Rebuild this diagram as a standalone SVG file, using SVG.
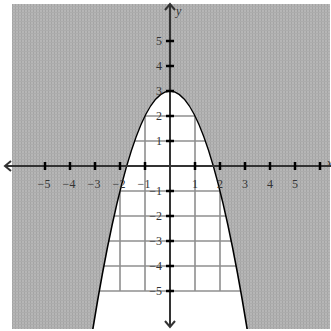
<svg xmlns="http://www.w3.org/2000/svg" width="331" height="331" viewBox="0 0 331 331">
<defs>
<pattern id="shade" width="3" height="3" patternUnits="userSpaceOnUse">
<rect width="3" height="3" fill="#b6b6b6"/>
<rect width="1" height="3" fill="#a4a4a4"/>
<rect width="3" height="1" fill="#acacac"/>
</pattern>
<clipPath id="plot"><rect x="12" y="4" width="318" height="325"/></clipPath>
<style>
.grid line{stroke:#8f8f8f;stroke-width:1.6}
.axis{stroke:#333;stroke-width:2;fill:none}
.tick{stroke:#000;stroke-width:2.5}
.lbl{font-family:"Liberation Serif","Times New Roman",serif;font-size:12px;fill:#333}
.xl{text-anchor:middle}
.yl{text-anchor:end}
</style>
</defs>
<rect width="331" height="331" fill="#fff"/>
<g class="grid">
<line x1="120" y1="291" x2="120" y2="16"/>
<line x1="145" y1="291" x2="145" y2="16"/>
<line x1="195" y1="291" x2="195" y2="16"/>
<line x1="220" y1="291" x2="220" y2="16"/>
<line x1="20" y1="291" x2="320" y2="291"/>
<line x1="20" y1="266" x2="320" y2="266"/>
<line x1="20" y1="241" x2="320" y2="241"/>
<line x1="20" y1="216" x2="320" y2="216"/>
<line x1="20" y1="191" x2="320" y2="191"/>
<line x1="20" y1="141" x2="320" y2="141"/>
<line x1="20" y1="116" x2="320" y2="116"/>
</g>
<g id="shading" clip-path="url(#plot)">
<path d="M12 4 H330 V340 H12 Z M92.5 331.25 Q170 -149.25 247.5 331.25 Z" fill="url(#shade)" fill-rule="evenodd"/>
</g>
<g id="parabola" clip-path="url(#plot)">
<path d="M92.5 331.25 Q170 -149.25 247.5 331.25" fill="none" stroke="#000" stroke-width="1.6"/>
</g>
<g id="axes">
<line class="axis" x1="5" y1="166" x2="331" y2="166"/>
<line class="axis" x1="170" y1="4" x2="170" y2="327"/>
<path class="axis" d="M11 161 L5 166 L11 171"/>
<path class="axis" d="M165 10 L170 4 L175 10"/>
<path class="axis" d="M165 321 L170 327 L175 321"/>
</g>
<g id="ticks">
<line class="tick" x1="45" y1="162" x2="45" y2="170"/>
<line class="tick" x1="70" y1="162" x2="70" y2="170"/>
<line class="tick" x1="95" y1="162" x2="95" y2="170"/>
<line class="tick" x1="120" y1="162" x2="120" y2="170"/>
<line class="tick" x1="145" y1="162" x2="145" y2="170"/>
<line class="tick" x1="195" y1="162" x2="195" y2="170"/>
<line class="tick" x1="220" y1="162" x2="220" y2="170"/>
<line class="tick" x1="245" y1="162" x2="245" y2="170"/>
<line class="tick" x1="270" y1="162" x2="270" y2="170"/>
<line class="tick" x1="295" y1="162" x2="295" y2="170"/>
<line class="tick" x1="320" y1="162" x2="320" y2="170"/>
<line class="tick" x1="166" y1="41" x2="174" y2="41"/>
<line class="tick" x1="166" y1="66" x2="174" y2="66"/>
<line class="tick" x1="166" y1="91" x2="174" y2="91"/>
<line class="tick" x1="166" y1="116" x2="174" y2="116"/>
<line class="tick" x1="166" y1="141" x2="174" y2="141"/>
<line class="tick" x1="166" y1="191" x2="174" y2="191"/>
<line class="tick" x1="166" y1="216" x2="174" y2="216"/>
<line class="tick" x1="166" y1="241" x2="174" y2="241"/>
<line class="tick" x1="166" y1="266" x2="174" y2="266"/>
<line class="tick" x1="166" y1="291" x2="174" y2="291"/>
</g>
<g id="labels" class="lbl">
<text class="xl" x="44" y="188">−5</text>
<text class="xl" x="69" y="188">−4</text>
<text class="xl" x="94" y="188">−3</text>
<text class="xl" x="119" y="188">−2</text>
<text class="xl" x="144" y="188">−1</text>
<text class="xl" x="195" y="188">1</text>
<text class="xl" x="220" y="188">2</text>
<text class="xl" x="245" y="188">3</text>
<text class="xl" x="270" y="188">4</text>
<text class="xl" x="295" y="188">5</text>
<text class="yl" x="162" y="45">5</text>
<text class="yl" x="162" y="70">4</text>
<text class="yl" x="162" y="95">3</text>
<text class="yl" x="162" y="120">2</text>
<text class="yl" x="162" y="145">1</text>
<text class="yl" x="162" y="195">−1</text>
<text class="yl" x="162" y="220">−2</text>
<text class="yl" x="162" y="245">−3</text>
<text class="yl" x="162" y="270">−4</text>
<text class="yl" x="162" y="295">−5</text>
<text x="176" y="15" font-style="italic">y</text>
<text x="327" y="167" font-style="italic">x</text>
</g>
</svg>
